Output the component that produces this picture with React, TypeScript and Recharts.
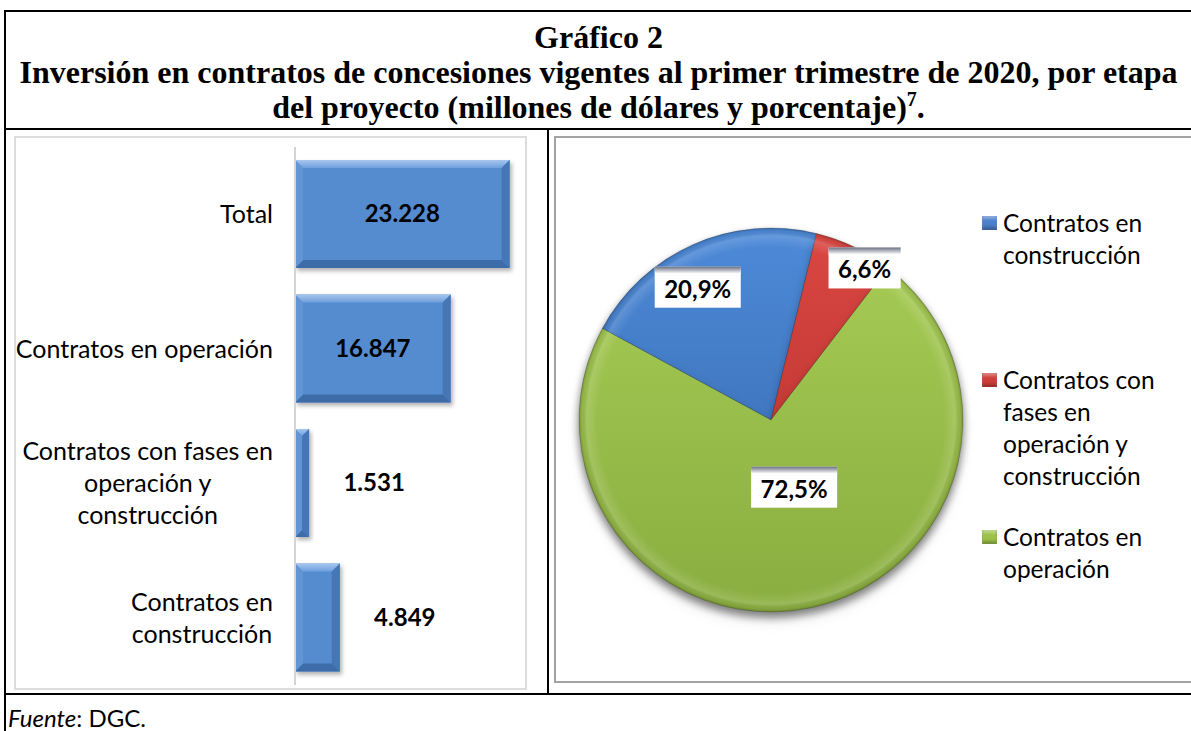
import React from 'react';
import { BarChart, Bar, XAxis, YAxis, LabelList, PieChart, Pie, Cell, Legend } from 'recharts';

// left panel: investment by stage (millions of USD)
const categories = [
  'Total',
  'Contratos en operación',
  'Contratos con fases en operación y construcción',
  'Contratos en construcción',
];
const investment = [23228, 16847, 1531, 4849];

// right panel: share of investment (%)
const pieNames = [
  'Contratos en construcción',
  'Contratos con fases en operación y construcción',
  'Contratos en operación',
];
const pieShares = [20.9, 6.6, 72.5];
const pieColors = ['#4a7fc9', '#cd3d39', '#9cc24a'];

const barData = categories.map((name, i) => ({ name, value: investment[i] }));
const pieData = pieNames.map((name, i) => ({ name, value: pieShares[i] }));

const SANS = 'Lato, "Open Sans", sans-serif';
const AXIS_SIZE = 25;
const AXIS_FONT = `${AXIS_SIZE}px ${SANS}`;
const PIE_LABEL_FONT = `bold 24px ${SANS}`;

let ctx: CanvasRenderingContext2D | null = null;
const measure = (text: string, font: string) => {
  if (!ctx) ctx = document.createElement('canvas').getContext('2d');
  if (!ctx) return text.length * 12;
  ctx.font = font;
  return ctx.measureText(text).width;
};

const wrap = (text: string, font: string, maxW: number) => {
  const words = text.split(' ');
  const lines: string[] = [];
  let cur = '';
  words.forEach((w) => {
    const next = cur ? cur + ' ' + w : w;
    if (cur && measure(next, font) > maxW) {
      lines.push(cur);
      cur = w;
    } else cur = next;
  });
  if (cur) lines.push(cur);
  return lines;
};

const fmtThousands = (v: number) => String(v).replace(/\B(?=(\d{3})+(?!\d))/g, '.');
const fmtPct = (v: number) => v.toFixed(1).replace('.', ',') + '%';

const CategoryTick = (props: any) => {
  const { x, y, payload } = props;
  const lines = wrap(payload.value, AXIS_FONT, 264);
  const blockW = Math.max(...lines.map((l) => measure(l, AXIS_FONT)));
  const right = x - 14;
  const mid = right - blockW / 2;
  const lh = 32;
  const y0 = y - ((lines.length - 1) * lh) / 2;
  return (
    <text textAnchor="middle" fontFamily={SANS} fontSize={AXIS_SIZE} fill="#000">
      {lines.map((l, i) => (
        <tspan key={i} x={mid} y={y0 + i * lh} dy="0.35em">
          {l}
        </tspan>
      ))}
    </text>
  );
};

const BevelBar = (props: any) => {
  const { x, y, width, height } = props;
  if (!width || !height) return null;
  const b = Math.min(8, width / 2, height / 2);
  const r = x + width;
  const bt = y + height;
  return (
    <g filter="url(#barShadow)">
      <rect x={x} y={y} width={width} height={height} fill="#558ccf" />
      <polygon points={`${x},${y} ${r},${y} ${r - b},${y + b} ${x + b},${y + b}`} fill="url(#bevelTop)" />
      <polygon points={`${x},${bt} ${r},${bt} ${r - b},${bt - b} ${x + b},${bt - b}`} fill="#3e6ca8" />
      <polygon points={`${x},${y} ${x + b},${y + b} ${x + b},${bt - b} ${x},${bt}`} fill="#6295d4" />
      <polygon points={`${r},${y} ${r - b},${y + b} ${r - b},${bt - b} ${r},${bt}`} fill="#4676b5" />
    </g>
  );
};

const ValueLabel = (props: any) => {
  const { x, y, width, height, value } = props;
  const inside = width > 100;
  const cx = inside ? x + width / 2 : x + width + 65;
  return (
    <text
      x={cx}
      y={y + height / 2}
      dy="0.35em"
      textAnchor="middle"
      fontFamily={SANS}
      fontWeight={700}
      fontSize={24}
      fill="#000"
    >
      {fmtThousands(value)}
    </text>
  );
};

// nudges so the boxes sit where Excel's "best fit" put them
const LABEL_RADIUS = [0.79, 0.93, 0.37];
const LABEL_TURN = [5, -6, 7];

const PieLabel = (props: any) => {
  const { cx, cy, midAngle, outerRadius, index, value } = props;
  const a = ((midAngle + LABEL_TURN[index]) * Math.PI) / 180;
  const rr = outerRadius * LABEL_RADIUS[index];
  const x = cx + rr * Math.cos(a);
  const y = cy - rr * Math.sin(a);
  const text = fmtPct(value);
  const w = measure(text, PIE_LABEL_FONT) + 19;
  const h = 41;
  return (
    <g>
      <rect x={x - w / 2} y={y - h / 2} width={w} height={h} fill="#fff" />
      <rect x={x - w / 2} y={y - h / 2} width={w} height={7} fill="url(#labelTop)" />
      <text
        x={x}
        y={y + 2}
        dy="0.35em"
        textAnchor="middle"
        fontFamily={SANS}
        fontWeight={700}
        fontSize={24}
        fill="#000"
      >
        {text}
      </text>
    </g>
  );
};

const PieLegend = () => (
  <div style={{ position: 'relative', width: 200, height: 480 }}>
    {pieNames.map((name, i) => (
      <div key={name} style={{ position: 'absolute', left: 0, top: i * 157, width: 200 }}>
        <div
          style={{
            position: 'absolute',
            left: 0,
            top: 9,
            width: 15,
            height: 14,
            background: pieColors[i],
            boxShadow: 'inset 0 -3px 3px rgba(0,0,0,0.25), inset 0 3px 3px rgba(255,255,255,0.35)',
          }}
        />
        <div
          style={{
            position: 'absolute',
            left: 21,
            top: 0,
            width: 168,
            fontFamily: SANS,
            fontSize: 24.5,
            lineHeight: '32px',
            color: '#000',
          }}
        >
          {name}
        </div>
      </div>
    ))}
  </div>
);

const line = (s: React.CSSProperties): React.CSSProperties => ({ position: 'absolute', background: '#000', ...s });

export default function App() {
  return (
    <div style={{ position: 'fixed', left: 0, top: 0, width: 1191, height: 731, background: '#fff', overflow: 'hidden' }}>
      <style>{`.pie-base { filter: drop-shadow(0px 5px 4px rgba(0,0,0,0.3)); }`}</style>
      <svg width={0} height={0} style={{ position: 'absolute' }}>
        <defs>
          <filter id="barShadow" x="-20%" y="-10%" width="150%" height="130%">
            <feDropShadow dx="2" dy="3" stdDeviation="2" floodColor="#000" floodOpacity="0.3" />
          </filter>
          <linearGradient id="bevelTop" x1="0" y1="0" x2="0" y2="1">
            <stop offset="0" stopColor="#a6c6ee" />
            <stop offset="1" stopColor="#6f9fdc" />
          </linearGradient>
          <linearGradient id="labelTop" x1="0" y1="0" x2="0" y2="1">
            <stop offset="0" stopColor="#6b7183" />
            <stop offset="1" stopColor="#ffffff" />
          </linearGradient>
          <linearGradient id="pg0" gradientUnits="userSpaceOnUse" x1="0" y1="92" x2="0" y2="476">
            <stop offset="0" stopColor="#4d8ad8" />
            <stop offset="1" stopColor="#3464a8" />
          </linearGradient>
          <linearGradient id="pg1" gradientUnits="userSpaceOnUse" x1="0" y1="92" x2="0" y2="476">
            <stop offset="0" stopColor="#da4742" />
            <stop offset="1" stopColor="#b02d2a" />
          </linearGradient>
          <linearGradient id="pg2" gradientUnits="userSpaceOnUse" x1="0" y1="92" x2="0" y2="476">
            <stop offset="0" stopColor="#a8cd55" />
            <stop offset="1" stopColor="#8aad40" />
          </linearGradient>
          <radialGradient id="pieRim" gradientUnits="userSpaceOnUse" cx="218" cy="284" r="192">
            <stop offset="0" stopColor="#fff" stopOpacity="0" />
            <stop offset="0.9" stopColor="#fff" stopOpacity="0" />
            <stop offset="0.96" stopColor="#fff" stopOpacity="0.14" />
            <stop offset="0.985" stopColor="#000" stopOpacity="0.05" />
            <stop offset="1" stopColor="#000" stopOpacity="0.22" />
          </radialGradient>
        </defs>
      </svg>

      {/* table frame */}
      <div style={line({ left: 4, top: 10, width: 1191, height: 2 })} />
      <div style={line({ left: 4, top: 10, width: 2, height: 721 })} />
      <div style={line({ left: 4, top: 128, width: 1191, height: 2 })} />
      <div style={line({ left: 547, top: 128, width: 2, height: 567 })} />
      <div style={line({ left: 4, top: 693, width: 1191, height: 2 })} />

      {/* title */}
      <div
        style={{
          position: 'absolute',
          left: 6,
          top: 20,
          width: 1185,
          textAlign: 'center',
          fontFamily: '"Liberation Serif", "Times New Roman", serif',
          fontWeight: 700,
          fontSize: 32,
          lineHeight: '35px',
          whiteSpace: 'nowrap',
          color: '#000',
        }}
      >
        Gráfico 2
        <br />
        Inversión en contratos de concesiones vigentes al primer trimestre de 2020, por etapa
        <br />
        del proyecto (millones de dólares y porcentaje)
        <sup style={{ fontSize: 20, lineHeight: 0 }}>7</sup>.
      </div>

      {/* left panel */}
      <div
        style={{
          position: 'absolute',
          left: 14,
          top: 136,
          width: 513,
          height: 554,
          boxSizing: 'border-box',
          border: '2px solid #dcdcdc',
        }}
      />
      <div style={{ position: 'absolute', left: 14, top: 136 }}>
        <BarChart
          layout="vertical"
          width={513}
          height={554}
          data={barData}
          margin={{ top: 11, right: 1, bottom: 5, left: 0 }}
        >
          <XAxis type="number" domain={[0, 25000]} hide />
          <YAxis
            type="category"
            dataKey="name"
            width={281}
            axisLine={{ stroke: '#d4d4d4', strokeWidth: 2 }}
            tickLine={false}
            tick={<CategoryTick />}
            interval={0}
          />
          <Bar dataKey="value" barSize={108} shape={<BevelBar />} isAnimationActive={false}>
            <LabelList dataKey="value" content={<ValueLabel />} />
          </Bar>
        </BarChart>
      </div>

      {/* right panel */}
      <div
        style={{
          position: 'absolute',
          left: 554,
          top: 136,
          width: 660,
          height: 547,
          boxSizing: 'border-box',
          border: '2px solid #a3a3a3',
        }}
      />
      <div style={{ position: 'absolute', left: 553, top: 136 }}>
        <PieChart width={638} height={546} margin={{ top: 0, right: 0, bottom: 0, left: 0 }}>
          <Pie
            data={pieData}
            dataKey="value"
            nameKey="name"
            cx={218}
            cy={284}
            outerRadius={192}
            startAngle={151.5}
            endAngle={-208.5}
            stroke="rgba(0,0,0,0.18)"
            strokeWidth={1}
            className="pie-base"
            label={false}
            labelLine={false}
            isAnimationActive={false}
          >
            {pieData.map((d, i) => (
              <Cell key={d.name} fill={`url(#pg${i})`} />
            ))}
          </Pie>
          <Pie
            data={pieData}
            dataKey="value"
            nameKey="name"
            cx={218}
            cy={284}
            outerRadius={192}
            startAngle={151.5}
            endAngle={-208.5}
            stroke="none"
            fill="url(#pieRim)"
            legendType="none"
            label={<PieLabel />}
            labelLine={false}
            isAnimationActive={false}
          />
          <Legend
            layout="vertical"
            align="right"
            verticalAlign="top"
            content={<PieLegend />}
            wrapperStyle={{ left: 429, top: 71, right: 'auto', width: 200 }}
          />
        </PieChart>
      </div>

      {/* source */}
      <div
        style={{
          position: 'absolute',
          left: 8,
          top: 705,
          fontFamily: SANS,
          fontSize: 24,
          lineHeight: '26px',
          color: '#000',
        }}
      >
        <i>Fuente</i>: DGC.
      </div>
    </div>
  );
}
